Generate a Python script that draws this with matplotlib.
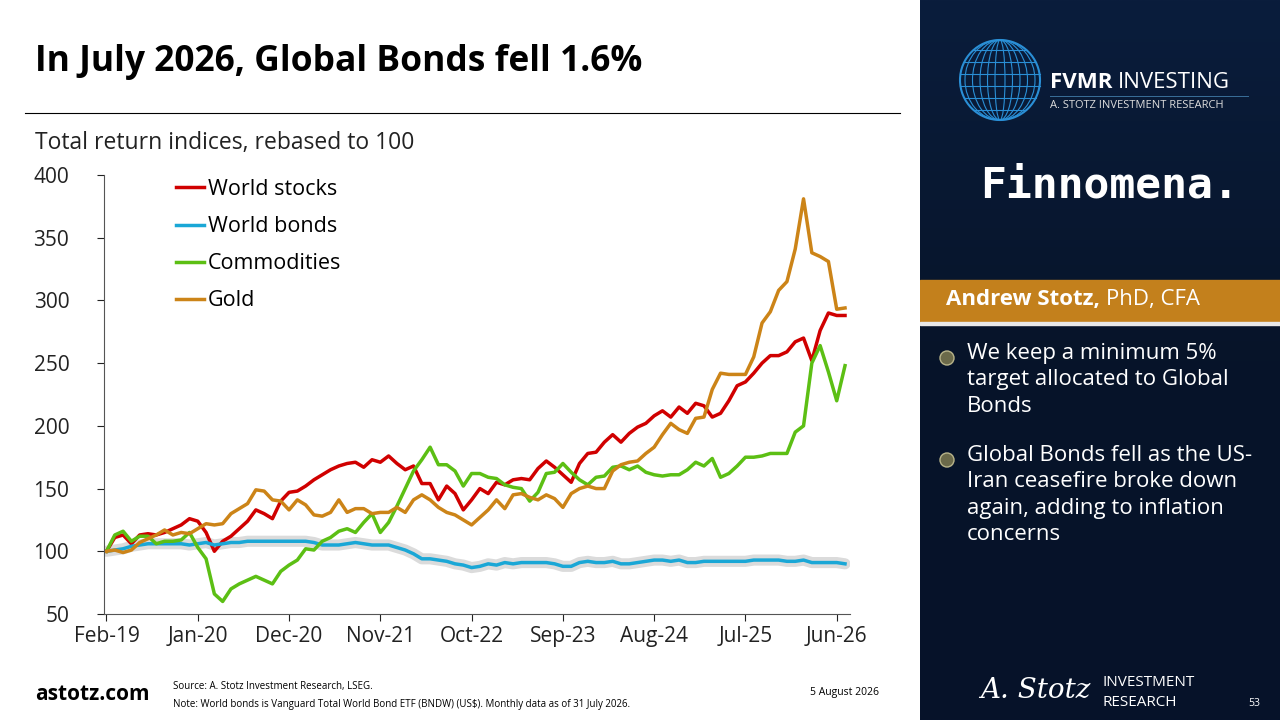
import numpy as np
import pandas as pd
import matplotlib.pyplot as plt
from matplotlib.patches import Rectangle, Circle, Ellipse

# ---- data (monthly, Feb-19 .. Jul-26) ----
dates = pd.date_range("2019-02-01", periods=90, freq="MS")

world_stocks = [100, 111, 113, 106, 113, 114, 113, 115, 118, 121, 126, 124, 115, 100, 108,
                112, 118, 124, 133, 130, 126, 140, 147, 148, 152, 157, 161, 165, 168, 170,
                171, 167, 173, 171, 176, 170, 165, 168, 154, 154, 141, 152, 146, 133, 141,
                150, 146, 155, 153, 157, 158, 157, 166, 172, 167, 161, 155, 170, 178, 179,
                187, 193, 187, 194, 199, 202, 208, 212, 207, 215, 210, 218, 216, 207, 210,
                220, 232, 235, 242, 250, 256, 256, 259, 267, 270, 252, 276, 290, 288, 288]

world_bonds = [100, 101, 102, 104, 105, 106, 106, 106, 106, 106, 105, 106, 107, 105, 106,
               107, 107, 108, 108, 108, 108, 108, 108, 108, 108, 107, 105, 105, 105, 106,
               107, 106, 105, 105, 105, 103, 101, 98, 94, 94, 93, 92, 90, 89, 87,
               88, 90, 89, 91, 90, 91, 91, 91, 91, 90, 88, 88, 91, 92, 91,
               91, 92, 90, 90, 91, 92, 93, 93, 92, 93, 91, 91, 92, 92, 92,
               92, 92, 92, 93, 93, 93, 93, 92, 92, 93, 91, 91, 91, 91, 90]

commodities = [100, 113, 116, 108, 112, 112, 106, 108, 108, 109, 115, 103, 94, 66, 60,
               70, 74, 77, 80, 77, 74, 84, 89, 93, 102, 101, 108, 111, 116, 118,
               115, 123, 130, 115, 123, 136, 150, 164, 173, 183, 169, 169, 164, 152, 162,
               162, 159, 158, 153, 151, 150, 140, 147, 162, 163, 170, 163, 157, 153, 159,
               160, 167, 168, 165, 168, 163, 161, 160, 161, 161, 165, 171, 168, 174, 159,
               162, 168, 175, 175, 176, 178, 178, 178, 195, 200, 250, 264, 243, 220, 248]

gold = [100, 101, 99, 101, 107, 110, 113, 117, 113, 115, 114, 118, 122, 121, 122,
        130, 134, 138, 149, 148, 141, 140, 133, 141, 137, 129, 128, 131, 141, 131,
        134, 134, 130, 131, 131, 135, 131, 141, 145, 141, 135, 131, 129, 125, 121,
        127, 133, 141, 134, 145, 146, 143, 141, 145, 142, 135, 146, 150, 152, 150,
        150, 164, 169, 171, 172, 178, 183, 193, 202, 197, 194, 206, 207, 229, 242,
        241, 241, 241, 255, 282, 291, 308, 315, 341, 381, 338, 335, 331, 293, 294]

tick_labels = ["Feb-19", "Jan-20", "Dec-20", "Nov-21", "Oct-22", "Sep-23", "Aug-24", "Jul-25", "Jun-26"]

RED = "#d00000"
BLUE = "#1aa7d6"
GREEN = "#5cbf14"
GOLD = "#cc8418"

plt.rcParams["font.family"] = ["Open Sans", "DejaVu Sans"]

fig = plt.figure(figsize=(12.8, 7.2), dpi=100)
W, H = 1280, 720

def fx(px):
    return px / W

def fy(py):
    return 1 - py / H

# ---- right dark panel ----
bg = fig.add_axes([fx(920), 0, 1 - fx(920), 1])
bg.set_xlim(0, 360)
bg.set_ylim(720, 0)
bg.axis("off")
grad = np.linspace(0, 1, 256).reshape(-1, 1)
bg.imshow(grad, extent=[0, 360, 720, 0], cmap=plt.matplotlib.colors.LinearSegmentedColormap.from_list(
    "n", ["#0a1d3c", "#071429", "#06122a"]), aspect="auto")
bg.add_patch(Rectangle((0, 280), 360, 42, color="#c3801c"))
bg.add_patch(Rectangle((0, 322), 360, 3, color="#e8e8e8"))

# globe logo
bg.add_patch(Circle((80, 80), 40, fill=False, ec="#2a8fd6", lw=1.5))
for w in [10, 25, 40, 55, 70]:
    bg.add_patch(Ellipse((80, 80), w, 80, fill=False, ec="#2a8fd6", lw=0.8))
for dy in [-30, -18, -6, 6, 18, 30]:
    hw = np.sqrt(40 ** 2 - dy ** 2)
    bg.plot([80 - hw, 80 + hw], [80 + dy, 80 + dy], color="#2a8fd6", lw=0.8)

bg.text(130, 82, "FVMR", color="white", fontsize=16, fontweight="bold", va="center")
bg.text(198, 82, "INVESTING", color="white", fontsize=16, va="center")
bg.plot([130, 328], [96, 96], color="#3a6f9a", lw=0.7)
bg.text(130, 106, "A. STOTZ INVESTMENT RESEARCH", color="#dddddd", fontsize=8, va="center")
bg.text(60, 185, "Finnomena.", color="white", fontsize=31, fontweight="bold",
        family=["DejaVu Sans Mono"], va="center")
bg.text(180, 300, "Andrew Stotz,", color="white", fontsize=16, fontweight="bold", va="center", ha="right")
bg.text(186, 300, "PhD, CFA", color="white", fontsize=16, va="center", ha="left")

bullets = [(358, "We keep a minimum 5%\ntarget allocated to Global\nBonds"),
           (460, "Global Bonds fell as the US-\nIran ceasefire broke down\nagain, adding to inflation\nconcerns")]
for by, txt in bullets:
    bg.add_patch(Circle((27, by), 7, color="#6b6a4a", ec="#b8b48a"))
    bg.text(47, by - 15, txt, color="white", fontsize=16, va="top", linespacing=1.33)

bg.text(60, 690, "A. Stotz", color="white", fontsize=20, style="italic", va="center", family=["DejaVu Serif"])
bg.text(182, 682, "INVESTMENT", color="white", fontsize=11, va="center")
bg.text(182, 702, "RESEARCH", color="white", fontsize=11, va="center")
bg.text(328, 704, "53", color="white", fontsize=7.5, va="center")

# ---- title and texts ----
fig.text(fx(35), fy(62), "In July 2026, Global Bonds fell 1.6%", fontsize=25.5, fontweight="bold", va="center")
fig.add_artist(plt.Line2D([fx(25), fx(900)], [fy(113), fy(113)], color="black", lw=0.8))
fig.text(fx(35), fy(143), "Total return indices, rebased to 100", fontsize=16.5, va="center", color="#222222")
fig.text(fx(35), fy(694), "astotz.com", fontsize=15, fontweight="bold", va="center")
fig.text(fx(173), fy(687), "Source: A. Stotz Investment Research, LSEG.", fontsize=7, va="center")
fig.text(fx(173), fy(704), "Note: World bonds is Vanguard Total World Bond ETF (BNDW) (US$). Monthly data as of 31 July 2026.",
         fontsize=7, va="center")
fig.text(fx(810), fy(692), "5 August 2026", fontsize=7.5, va="center")

# ---- chart ----
ax = fig.add_axes([fx(104), fy(614), fx(850 - 104), fy(175) - fy(614)])
x = np.arange(len(dates))
ax.plot(x, world_bonds, color="#888888", lw=8, alpha=0.3, solid_capstyle="round")
ax.plot(x, world_stocks, color=RED, lw=2.5, label="World stocks")
ax.plot(x, world_bonds, color=BLUE, lw=2.5, label="World bonds")
ax.plot(x, commodities, color=GREEN, lw=2.5, label="Commodities")
ax.plot(x, gold, color=GOLD, lw=2.5, label="Gold")

ax.set_ylim(50, 400)
ax.set_xlim(-0.3, 89.6)
ax.set_yticks(range(50, 401, 50))
ax.set_xticks(range(0, 90, 11))
ax.set_xticklabels(tick_labels)
ax.tick_params(labelsize=15, colors="#222222", length=5, direction="out")
ax.tick_params(axis="y", pad=20)
for s in ["top", "right"]:
    ax.spines[s].set_visible(False)
for s in ["left", "bottom"]:
    ax.spines[s].set_color("#555555")
ax.legend(loc="upper left", bbox_to_anchor=(0.07, 1.035), frameon=False, fontsize=15.5,
          handlelength=1.3, handletextpad=0.2, labelspacing=0.75)

fig.savefig("out.png", dpi=100)
